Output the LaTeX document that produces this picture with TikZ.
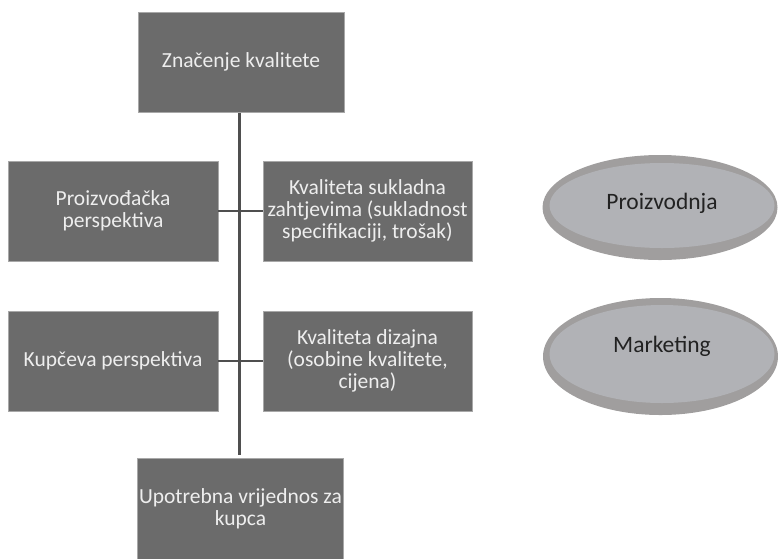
\documentclass[tikz,border=0pt]{standalone}
\usepackage{fontspec}
\setmainfont{Carlito}
\usetikzlibrary{shapes.geometric}
\definecolor{boxfill}{HTML}{6B6B6B}
\definecolor{boxline}{HTML}{A8A8A8}
\definecolor{boxtext}{HTML}{EEEEEE}
\definecolor{linecol}{HTML}{4F4F4F}
\definecolor{ellfill}{HTML}{B1B2B6}
\definecolor{ellline}{HTML}{A09E9E}
\definecolor{elltext}{HTML}{222222}
\begin{document}
\begin{tikzpicture}[x=1pt,y=-1pt,
  gbox/.style={draw=boxline, line width=0.8pt, fill=boxfill, text=boxtext,
    minimum width=206pt, minimum height=100pt, align=center, inner sep=0pt,
    font=\fontsize{21.5}{22}\selectfont},
  gellout/.style={ellipse, fill=ellline, inner sep=0pt},
  gellin/.style={ellipse, fill=ellfill, inner sep=0pt},
  glabel/.style={text=elltext, inner sep=0pt, font=\fontsize{23.5}{24}\selectfont},
  conn/.style={draw=linecol, line width=3pt}]
\useasboundingbox (0,0) rectangle (778,558);
\node[gbox] (top) at (241,62) {Značenje kvalitete};
\node[gbox, minimum width=210pt] (l1) at (113,211) {Proizvođačka\\perspektiva};
\node[gbox, minimum width=209pt] (r1) at (367.5,211) {Kvaliteta sukladna\\zahtjevima (sukladnost\\specifikaciji, trošak)};
\node[gbox, minimum width=210pt] (l2) at (113,361) {Kupčeva perspektiva};
\node[gbox, minimum width=209pt] (r2) at (367.5,361) {Kvaliteta dizajna\\(osobine kvalitete,\\cijena)};
\node[gbox, minimum height=102pt] (bot) at (240.5,509) {Upotrebna vrijednos za\\kupca};
\coordinate (vtop) at (239,112.6);
\coordinate (vend) at (239,455);
\draw[conn] (vtop) -- (vend);
\draw[conn, line width=2pt] (l1.east) -- (r1.west);
\draw[conn, line width=2pt] (l2.east) -- (r2.west);
% Proizvodnja
\node[gellout, minimum width=235pt, minimum height=105pt] (e1o) at (660,207.5) {};
\node[gellin, minimum width=225pt, minimum height=85pt] (e1i) at (662,205.5) {};
\node[glabel] (e1t) at (662,203) {Proizvodnja};
% Marketing
\node[gellout, minimum width=235pt, minimum height=117pt] (e2o) at (660.5,356.5) {};
\node[gellin, minimum width=225pt, minimum height=98pt] (e2i) at (662,354) {};
\node[glabel] (e2t) at (662,346) {Marketing};
\end{tikzpicture}
\end{document}
